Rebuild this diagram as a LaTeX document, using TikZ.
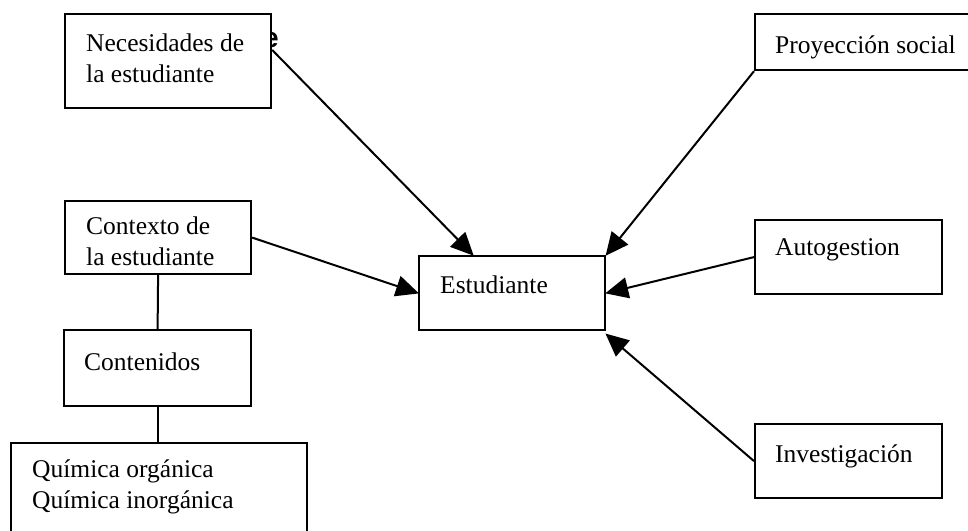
\documentclass[tikz,border=0pt]{standalone}
\usepackage{fontspec}
\setmainfont{Liberation Serif}
\newfontfamily\glyphsans{Liberation Sans}
\usetikzlibrary{arrows.meta}

\tikzset{
  boxnode/.style={draw, fill=white, line width=2.2pt, inner sep=0pt, anchor=north west},
  label text/.style={inner sep=0pt, anchor=base west, align=left,
    font=\fontsize{25.5}{31}\selectfont},
  link/.style={line width=2pt},
  arrowlink/.style={link, -{Triangle[length=23pt,width=21pt]}, shorten >=-1pt},
}

\begin{document}
\begin{tikzpicture}[x=1pt, y=-1pt]
  \useasboundingbox (0,0) rectangle (968,530);
  \clip (0,0) rectangle (968,530);

  % stray heading glyph, mostly hidden behind the first box
  \node[inner sep=0pt, anchor=base east, font=\glyphsans\bfseries\fontsize{28}{30}\selectfont] (stray) at (279,47) {e};

  % boxes
  \node[boxnode, minimum width=206pt, minimum height=94pt] (nec) at (64,13) {};
  \node[boxnode, minimum width=186pt, minimum height=73pt] (ctx) at (64,200) {};
  \node[boxnode, minimum width=187pt, minimum height=76pt] (cont) at (63,329) {};
  \node[boxnode, minimum width=296pt, minimum height=110pt] (quim) at (10,442) {};
  \node[boxnode, minimum width=186pt, minimum height=74pt] (est) at (418,255) {};
  \node[boxnode, minimum width=214pt, minimum height=56pt] (proy) at (754,13) {};
  \node[boxnode, minimum width=187pt, minimum height=74pt] (auto) at (754,219) {};
  \node[boxnode, minimum width=187pt, minimum height=74pt] (inv) at (754,423) {};

  % texts (multi-line nodes sit on the baseline of their last line)
  \node[label text] (necT) at (86,82) {Necesidades de\\la estudiante};
  \node[label text] (ctxT) at (86,265) {Contexto de\\la estudiante};
  \node[label text] (contT) at (84,370) {Contenidos};
  \node[label text] (quimT) at (32,508) {Química orgánica\\Química inorgánica};
  \node[label text] (estT) at (440,293) {Estudiante};
  \node[label text] (proyT) at (775,53) {Proyección social};
  \node[label text] (autoT) at (775,255) {Autogestion};
  \node[label text] (invT) at (775,462) {Investigación};

  % plain connectors
  \draw[link] (ctx.south) -- (cont.north);
  \draw[link] (cont.south) -- (quim.north -| cont.south);

  % arrows into the central box
  \draw[arrowlink] ([yshift=-37pt]nec.north east) -- ([xshift=55pt]est.north west);
  \draw[arrowlink] (ctx.east) -- (est.west);
  \draw[arrowlink] (proy.south west) -- (est.north east);
  \draw[arrowlink] (auto.west) -- (est.east);
  \draw[arrowlink] (inv.west) -- ([yshift=-3pt]est.south east);
\end{tikzpicture}
\end{document}
